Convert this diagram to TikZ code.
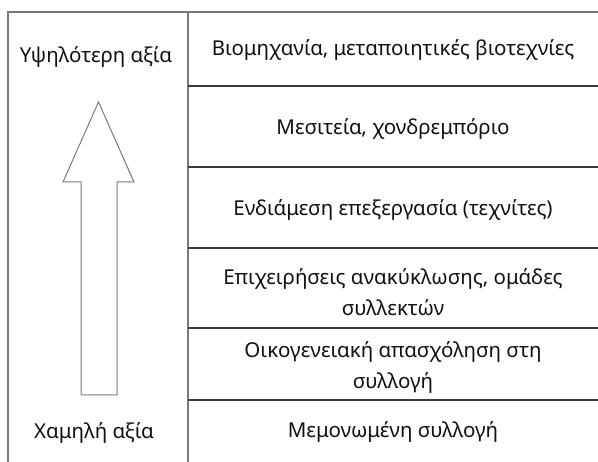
\documentclass[tikz,border=0pt]{standalone}
\usepackage{fontspec}
\setmainfont{Noto Sans}
\definecolor{lineA}{HTML}{7A7A7A}
\definecolor{lineB}{HTML}{3A3A3A}
\definecolor{txt}{HTML}{111111}
\begin{document}
\begin{tikzpicture}[x=1pt,y=-1pt,
  lbl/.style={inner sep=0pt,align=center,text=txt,font=\fontsize{20.5}{31}\selectfont},
  frame/.style={draw=lineA,line width=1.2pt},
  sep/.style={draw=lineB,line width=1.1pt},
  arr/.style={draw=lineA,line width=1pt}]
\useasboundingbox (0,0) rectangle (598,462);
% frame
\draw[frame] (8,462) -- (8,12) -- (600,12);
\draw[frame] (188,12) -- (188,462);
\draw[sep] (188,86) -- (600,86);
\draw[sep] (188,167) -- (600,167);
\draw[sep] (188,248) -- (600,248);
\draw[sep] (188,328) -- (600,328);
\draw[sep] (188,400) -- (600,400);
% arrow
\draw[arr] (98.5,102) -- (134,182) -- (117,182) -- (117,395) -- (81,395) -- (81,182) -- (63,182) -- cycle;
% labels
\node[lbl] (hi) at (96,57) {Υψηλότερη αξία};
\node[lbl] (lo) at (94,433) {Χαμηλή αξία};
\node[lbl] (r1) at (393,50) {Βιομηχανία, μεταποιητικές βιοτεχνίες};
\node[lbl] (r2) at (393,129) {Μεσιτεία, χονδρεμπόριο};
\node[lbl] (r3) at (393,210) {Ενδιάμεση επεξεργασία (τεχνίτες)};
\node[lbl] (r4) at (393,292) {Επιχειρήσεις ανακύκλωσης, ομάδες\\συλλεκτών};
\node[lbl] (r5) at (393,368) {Οικογενειακή απασχόληση στη\\συλλογή};
\node[lbl] (r6) at (393,432) {Μεμονωμένη συλλογή};
\end{tikzpicture}
\end{document}
